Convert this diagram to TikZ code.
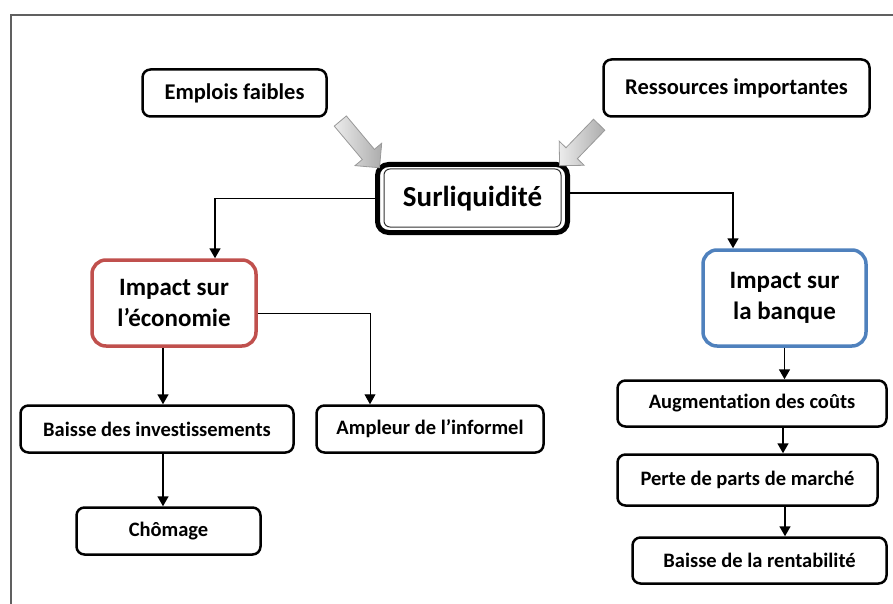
\documentclass[tikz,border=0pt]{standalone}
\usepackage{fontspec}
\setmainfont{Carlito}[Ligatures={NoCommon,NoContextual}, RawFeature={-liga;-clig;-dlig}]
\usetikzlibrary{positioning, arrows.meta, shapes.arrows, calc}
\definecolor{ecored}{HTML}{C0504D}
\definecolor{bankblue}{HTML}{4F81BD}

\begin{document}
\begin{tikzpicture}[
  x=1pt, y=-1pt,
  >={Triangle[length=10pt,width=11pt]},
% 1. Plain rounded boxes for causes and effects
  cause/.style={
    draw,
    rounded corners=8pt,
    line width=2.5pt,
    inner sep=0pt,
    align=center,
    font=\fontsize{22.5}{27}\selectfont\bfseries
  },
  effect/.style={
    cause,
    font=\fontsize{20.5}{25}\selectfont\bfseries
  },
% 2. Coloured impact boxes
  impact/.style={
    draw,
    rounded corners=14pt,
    line width=3.5pt,
    inner sep=0pt,
    align=center,
    font=\fontsize{25}{31}\selectfont\bfseries
  },
% 3. Central box with heavy border
  core/.style={
    draw,
    rounded corners=11pt,
    line width=5pt,
    inner sep=0pt,
    font=\fontsize{29}{34}\selectfont\bfseries
  },
% 4. Thin connectors and grey block arrows
  link/.style={
    ->,
    line width=1.7pt
  },
  feed/.style={
    single arrow,
    draw=gray!80,
    line width=0.8pt,
    left color=gray!15,
    right color=gray!65,
    inner sep=7.5pt,
    minimum width=34pt,
    single arrow head extend=9.5pt
  }
]
  \useasboundingbox (0,0) rectangle (893,604);

  % Frame (left and top edges only fall inside the page)
  \draw[gray!75!black, line width=1.2pt] (11,620) |- (910,15);

  % Top row
  \node[cause, minimum width=184pt, minimum height=47pt] (emp) at (234.5,93) {Emplois faibles};
  \node[cause, minimum width=266pt, minimum height=57pt] (res) at (736.5,88) {Ressources importantes};
  \node[core, minimum width=190pt, minimum height=68pt] (surl) at (472.5,198.5) {Surliquidité};
  \draw[line width=1pt, gray!40!black, rounded corners=6pt]
    ([shift={(9pt,8pt)}]surl.south west) rectangle ([shift={(-9pt,-7pt)}]surl.north east);

  % Impact boxes
  \node[impact, draw=ecored, minimum width=164pt, minimum height=86pt] (eco) at (174,303) {Impact sur\\l’économie};
  \node[impact, draw=bankblue, minimum width=163pt, minimum height=96pt] (bank) at (784.5,298) {Impact sur\\la banque};

  % Effects on the economy
  \node[effect, minimum width=273pt, minimum height=47pt] (inv) at (157,429) {Baisse des investissements};
  \node[effect, minimum width=227pt, minimum height=47pt] (amp) at (430,429) {Ampleur de l’informel};
  \node[effect, minimum width=184pt, minimum height=47pt] (cho) at (168.5,531) {Chômage};

  % Effects on the bank
  \node[effect, minimum width=269pt, minimum height=46pt] (aug) at (752,403.5) {Augmentation des coûts};
  \node[effect, minimum width=260pt, minimum height=51pt] (per) at (747.5,480) {Perte de parts de marché};
  \node[effect, minimum width=254pt, minimum height=46pt] (ren) at (759.5,560.5) {Baisse de la rentabilité};

  % Grey block arrows into the central box
  \node[feed, minimum height=61pt, rotate=-50] (inL) at ($(emp.south east)!0.5!(surl.north west)+(6,1.5)$) {};
  \node[feed, minimum height=57pt, rotate=-134] (inR) at ($(res.south west)!0.5!(surl.north west -| surl.north east)+(-4,2.5)$) {};

  % Connectors
  \draw[link] (surl.west) -| ([xshift=41pt]eco.north);
  \draw[link] ([yshift=5.5pt]surl.east) -| ([xshift=-51.5pt]bank.north);
  \draw[link] ([xshift=-11pt]eco.south) -- ([xshift=-11pt]eco.south |- inv.north);
  \draw[link, line width=1pt] ([yshift=-10pt]eco.east) -| ([xshift=-60pt]amp.north);
  \draw[link] ([xshift=6pt]inv.south) -- ([xshift=6pt]inv.south |- cho.north);
  \draw[link] (bank.south) -- (bank.south |- aug.north);
  \draw[link] ([xshift=31pt]aug.south) -- ([xshift=31pt]aug.south |- per.north);
  \draw[link] ([xshift=37.5pt]per.south) -- ([xshift=37.5pt]per.south |- ren.north);

\end{tikzpicture}
\end{document}
